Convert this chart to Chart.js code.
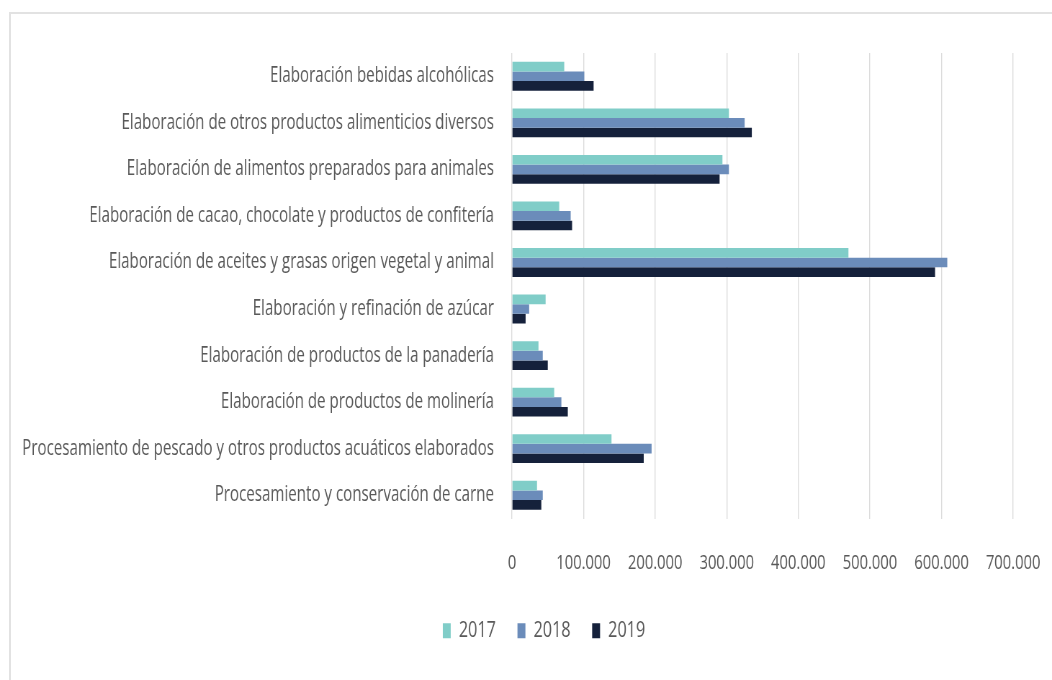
<!DOCTYPE html>
<html lang="es">
<head>
<meta charset="utf-8">
<title>Producción por actividad 2017-2019</title>
<script src="https://cdn.jsdelivr.net/npm/chart.js@4/dist/chart.umd.min.js"></script>
<style>
  html, body { margin: 0; padding: 0; background: #ffffff; overflow: hidden; }
  #wrap { position: relative; width: 1052px; height: 680px; }
  #frame {
    position: absolute; left: 9px; top: 12px; width: 1100px; height: 666px;
    border-left: 2px solid #e2e2e2; border-top: 2px solid #e2e2e2; border-bottom: 1px solid #e6e6e6;
    pointer-events: none;
  }
  #chart { position: absolute; left: 0; top: 0; }
</style>
</head>
<body>
<div id="wrap">
  <div id="frame"></div>
  <!-- the drawing surface is wider than its box, giving the narrow lettering -->
  <canvas id="chart" width="1461" height="680" style="width:1052px;height:680px"></canvas>
</div>
<script>
const categories = [
  'Elaboración bebidas alcohólicas',
  'Elaboración de otros productos alimenticios diversos',
  'Elaboración de alimentos preparados para animales',
  'Elaboración de cacao, chocolate y productos de confitería',
  'Elaboración de aceites y grasas origen vegetal y animal',
  'Elaboración y refinación de azúcar',
  'Elaboración de productos de la panadería',
  'Elaboración de productos de molinería',
  'Procesamiento de pescado y otros productos acuáticos elaborados',
  'Procesamiento y conservación de carne'
];
const years = ['2017', '2018', '2019'];
const values2017 = [73000, 303000, 294000, 66000, 470000, 47000, 37000, 59000, 139000, 35000];
const values2018 = [101000, 325000, 303000, 82000, 608000, 24000, 43000, 69000, 195000, 43000];
const values2019 = [114000, 335000, 290000, 84000, 591000, 19000, 50000, 78000, 184000, 41000];
const tickLabels = ['0', '100.000', '200.000', '300.000', '400.000', '500.000', '600.000', '700.000'];
const colors = ['#80cdc8', '#6b8cba', '#15213b'];

const textColor = '#595959';
const fontFamily = "'Open Sans', 'Noto Sans', sans-serif";

// centre the legend under the plot rather than under the whole canvas
const legendOffset = {
  id: 'legendOffset',
  afterLayout(chart) {
    const lg = chart.legend;
    if (!lg) return;
    const shift = 47;
    lg.left += shift;
    lg.right += shift;
  }
};

new Chart(document.getElementById('chart'), {
  type: 'bar',
  data: {
    labels: categories,
    datasets: [values2017, values2018, values2019].map((vals, i) => ({
      label: years[i],
      data: vals,
      backgroundColor: colors[i],
      borderWidth: 0,
      categoryPercentage: 0.62,
      barPercentage: 1.0
    }))
  },
  options: {
    indexAxis: 'y',
    responsive: false,
    devicePixelRatio: 1,
    animation: false,
    layout: { padding: { left: 10, right: 54, top: 53, bottom: 28 } },
    scales: {
      x: {
        min: 0,
        max: 700000,
        ticks: {
          stepSize: 100000,
          padding: 0,
          color: textColor,
          font: { family: fontFamily, size: 20.5 },
          maxRotation: 0,
          callback: (value, index) => tickLabels[index]
        },
        // invisible tick marks keep the labels clear of the plot
        grid: { color: '#dcdcdc', lineWidth: 1.4, drawTicks: true, tickLength: 32, tickColor: 'rgba(0,0,0,0)' },
        border: { display: false },
        afterFit: (scale) => { scale.height = 71; }
      },
      y: {
        ticks: {
          padding: 25,
          color: textColor,
          font: { family: fontFamily, size: 21 },
          autoSkip: false
        },
        grid: { display: false, drawTicks: false },
        border: { display: false },
        afterFit: (scale) => { scale.width = 701; }
      }
    },
    plugins: {
      legend: {
        position: 'bottom',
        labels: {
          boxWidth: 11,
          boxHeight: 15,
          padding: 30,
          color: textColor,
          font: { family: fontFamily, size: 22.5 }
        }
      },
      tooltip: { enabled: false }
    }
  },
  plugins: [legendOffset]
});
</script>
</body>
</html>
